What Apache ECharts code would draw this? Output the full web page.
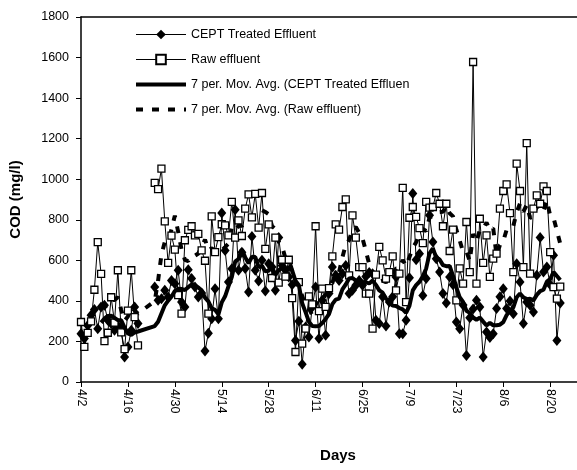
<!DOCTYPE html>
<html>
<head>
<meta charset="utf-8">
<script src="https://cdn.jsdelivr.net/npm/echarts@6/dist/echarts.min.js"></script>
<style>
  html, body { margin: 0; padding: 0; background: #fff; }
  #chart { width: 577px; height: 470px; }
</style>
</head>
<body>
<div id="chart"></div>
<script>
// Daily COD samples, index 0 = 4/2 (null = no sample that day)
const rawCOD = [296,173,242,299,455,690,533,202,243,418,293,551,245,162,352,551,320,181,null,null,null,null,
  982,951,1052,792,587,722,653,428,337,699,750,768,723,730,649,598,337,817,640,714,778,772,723,888,712,797,720,855,
  925,812,928,761,932,657,777,513,712,490,603,520,603,414,148,493,189,263,422,383,768,350,460,370,463,620,777,751,
  863,901,526,822,712,567,567,436,436,263,530,666,600,510,542,620,452,534,957,394,810,863,814,759,685,888,860,863,
  932,879,768,879,646,751,403,560,485,789,542,1578,485,805,587,723,518,608,633,855,942,975,833,542,1077,942,567,
  1178,534,855,920,879,965,942,640,468,411,470];

const ceptCOD = [238,214,279,329,357,263,370,378,304,288,255,279,255,123,173,255,370,288,null,null,null,null,
  468,403,411,452,419,501,485,551,394,370,554,510,468,419,439,153,240,312,460,312,833,649,493,559,850,551,640,560,
  444,718,551,498,600,449,583,567,452,712,575,551,518,480,205,300,87,271,222,370,468,214,403,230,436,567,526,501,
  534,575,436,452,477,501,477,520,540,534,304,288,420,276,395,420,518,238,238,304,514,930,603,633,427,510,822,690,
  608,542,436,390,518,480,296,263,380,131,317,360,403,370,123,246,219,238,362,420,460,362,400,337,583,493,288,394,
  378,345,526,712,542,567,480,625,205,390];

// Axis tick labels, one every 14 days from 4/2
const tickLabels = ['4/2','4/16','4/30','5/14','5/28','6/11','6/25','7/9','7/23','8/6','8/20'];

const seriesNames = ['CEPT Treated Effluent', 'Raw effluent',
  '7 per. Mov. Avg. (CEPT Treated Effluent)', '7 per. Mov. Avg. (Raw effluent)'];

// [day, value] pairs for the chart
function toPoints(values) {
  return values.map((v, i) => [i, v]);
}

// 7-period moving average trendline over the available samples
function movingAverage(values, period) {
  const out = [];
  const win = [];
  values.forEach((v, i) => {
    if (v == null) return;
    win.push(v);
    if (win.length > period) win.shift();
    if (win.length === period) {
      out.push([i, win.reduce((a, b) => a + b, 0) / period]);
    }
  });
  return out;
}

const FONT = "'Liberation Sans', Arial, sans-serif";

const chart = echarts.init(document.getElementById('chart'), null, { renderer: 'canvas' });

chart.setOption({
  animation: false,
  backgroundColor: '#ffffff',
  textStyle: { fontFamily: FONT, color: '#000' },
  grid: { left: 79, right: 0, top: 17, bottom: 88 },
  legend: {
    orient: 'vertical',
    left: 129,
    top: 23,
    itemWidth: 50,
    itemHeight: 12,
    itemGap: 12,
    data: [
      { name: seriesNames[0], lineStyle: { width: 1 } },
      { name: seriesNames[1], lineStyle: { width: 1 } },
      { name: seriesNames[2], itemStyle: { opacity: 0 }, lineStyle: { width: 4 } },
      { name: seriesNames[3], itemStyle: { opacity: 0 }, lineStyle: { width: 4, type: [7, 9] } }
    ],
    textStyle: {
      fontFamily: FONT, fontSize: 12.5, color: '#000',
      width: 221, overflow: 'truncate', ellipsis: ''
    }
  },
  xAxis: [{
    type: 'value',
    min: 0,
    max: 148,
    interval: 14,
    name: 'Days',
    nameLocation: 'middle',
    nameGap: 66,
    nameTextStyle: { fontFamily: FONT, fontSize: 15, fontWeight: 'bold', color: '#000', padding: [0, 0, 0, 18] },
    axisLine: { show: true, lineStyle: { color: '#000', width: 1.5 } },
    axisTick: { show: true, inside: false, length: 5, lineStyle: { color: '#000', width: 1 } },
    axisLabel: {
      rotate: -90,
      margin: 7,
      fontSize: 12.5,
      color: '#000',
      fontFamily: FONT,
      showMaxLabel: false,
      formatter: v => (v % 14 === 0 ? tickLabels[v / 14] || '' : '')
    },
    splitLine: { show: false }
  }, {
    // top border of the plot area
    type: 'value',
    position: 'top',
    min: 0,
    max: 148,
    axisLine: { show: true, onZero: false, lineStyle: { color: '#000', width: 1.5 } },
    axisTick: { show: false },
    axisLabel: { show: false },
    splitLine: { show: false }
  }],
  yAxis: {
    type: 'value',
    min: 0,
    max: 1800,
    interval: 200,
    name: 'COD (mg/l)',
    nameLocation: 'middle',
    nameRotate: 90,
    nameGap: 58,
    nameTextStyle: { fontFamily: FONT, fontSize: 15, fontWeight: 'bold', color: '#000' },
    axisLine: { show: true, lineStyle: { color: '#000', width: 1.5 } },
    axisTick: { show: true, inside: false, length: 5, lineStyle: { color: '#000', width: 1 } },
    axisLabel: { fontSize: 12.5, color: '#000', fontFamily: FONT, margin: 12, formatter: v => String(v) },
    splitLine: { show: false }
  },
  series: [
    {
      name: seriesNames[0],
      type: 'line',
      data: toPoints(ceptCOD),
      symbol: 'diamond',
      symbolSize: [9, 11],
      itemStyle: { color: '#000', borderColor: '#000', borderWidth: 0 },
      lineStyle: { color: '#000', width: 1 },
      z: 3
    },
    {
      name: seriesNames[1],
      type: 'line',
      data: toPoints(rawCOD),
      symbol: 'rect',
      symbolSize: 7,
      itemStyle: { color: '#fff', borderColor: '#000', borderWidth: 1.3 },
      lineStyle: { color: '#000', width: 1 },
      z: 4
    },
    {
      name: seriesNames[2],
      type: 'line',
      data: movingAverage(ceptCOD, 7),
      symbol: 'none',
      itemStyle: { color: '#000' },
      lineStyle: { color: '#000', width: 4 },
      z: 5
    },
    {
      // dashed trendline sits beneath the daily raw samples
      name: seriesNames[3],
      type: 'line',
      data: movingAverage(rawCOD, 7),
      symbol: 'none',
      itemStyle: { color: '#000' },
      lineStyle: { color: '#000', width: 4, type: [7, 9] },
      z: 2
    }
  ]
});
</script>
</body>
</html>
